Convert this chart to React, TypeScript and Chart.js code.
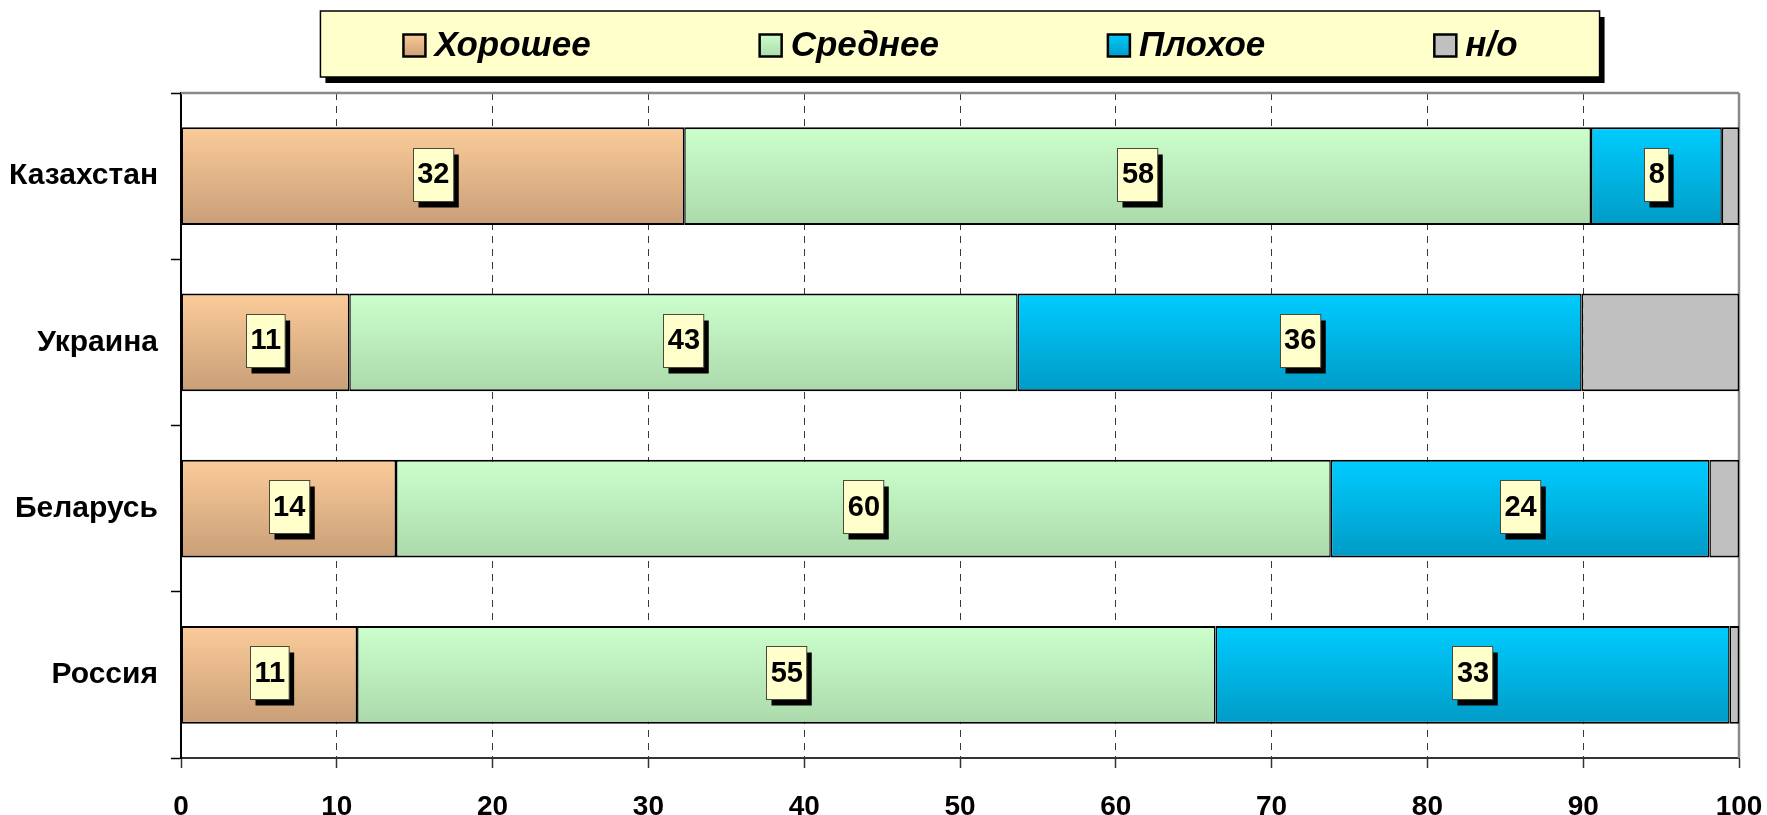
import React, { useEffect, useRef } from "react";
import { Chart, registerables } from "chart.js";

Chart.register(...registerables);

const categories = ["Казахстан", "Украина", "Беларусь", "Россия"];
const seriesLabels = ["Хорошее", "Среднее", "Плохое", "н/о"];
const goodValues = [32.3, 10.8, 13.8, 11.3];
const averageValues = [58.2, 42.9, 60.0, 55.1];
const badValues = [8.4, 36.2, 24.3, 33.0];
const naValues = [1.1, 10.1, 1.9, 0.6];
const xMin = 0;
const xMax = 100;
const xStep = 10;

const FONT = "'Liberation Sans', Arial, sans-serif";
const gradStops: [string, string][] = [
  ["#FBCB99", "#C99F78"],
  ["#CCFFCC", "#ABD9AB"],
  ["#00CCFF", "#009BC6"],
  ["#C0C0C0", "#C0C0C0"],
];
const BAR_PCT = 0.587;

function gradientFor(idx: number) {
  return (ctx: any) => {
    const chart = ctx.chart;
    const area = chart.chartArea;
    const ys = chart.scales && chart.scales.y;
    if (!area || !ys || ctx.dataIndex === undefined) return gradStops[idx][0];
    const yc = ys.getPixelForValue(ctx.dataIndex);
    const h = (area.height / categories.length) * BAR_PCT;
    const g = chart.ctx.createLinearGradient(0, yc - h / 2, 0, yc + h / 2);
    g.addColorStop(0, gradStops[idx][0]);
    g.addColorStop(1, gradStops[idx][1]);
    return g;
  };
}

const framePlugin = {
  id: "frame",
  beforeDatasetsDraw(chart: any) {
    const { ctx, chartArea: a } = chart;
    ctx.save();
    ctx.strokeStyle = "#8A8A8A";
    ctx.lineWidth = 2.5;
    ctx.beginPath();
    ctx.moveTo(a.left, a.top);
    ctx.lineTo(a.right, a.top);
    ctx.moveTo(a.right, a.top);
    ctx.lineTo(a.right, a.bottom);
    ctx.stroke();
    ctx.restore();
  },
};

const labelPlugin = {
  id: "boxLabels",
  afterDatasetsDraw(chart: any) {
    const ctx = chart.ctx;
    ctx.save();
    ctx.font = `bold 29px ${FONT}`;
    ctx.textAlign = "center";
    ctx.textBaseline = "middle";
    for (let d = 0; d < 3; d++) {
      const meta = chart.getDatasetMeta(d);
      const data = chart.data.datasets[d].data as number[];
      meta.data.forEach((el: any, i: number) => {
        const txt = String(Math.round(data[i]));
        const cx = (el.x + el.base) / 2;
        const cy = el.y - 2;
        const tw = ctx.measureText(txt).width;
        const bw = tw + 8;
        const bh = 53;
        const bx = Math.round(cx - bw / 2) + 0.5;
        const by = Math.round(cy - bh / 2) + 0.5;
        ctx.fillStyle = "#000";
        ctx.fillRect(bx + 5, by + 6, bw, bh);
        ctx.fillStyle = "#FFFFCC";
        ctx.fillRect(bx, by, bw, bh);
        ctx.strokeStyle = "#4A4A3A";
        ctx.lineWidth = 1;
        ctx.strokeRect(bx, by, bw, bh);
        ctx.fillStyle = "#000";
        ctx.fillText(txt, cx + 0.5, cy + 1);
      });
    }
    ctx.restore();
  },
};

const legendPlugin = {
  id: "boxLegend",
  afterDraw(chart: any) {
    const { ctx, chartArea: a } = chart;
    ctx.save();
    ctx.font = `italic bold 35px ${FONT}`;
    const marker = 24;
    const mGap = 8;
    const itemGap = 168;
    const widths = seriesLabels.map((s) => ctx.measureText(s).width);
    const total =
      widths.reduce((s, w) => s + marker + mGap + w, 0) + itemGap * (seriesLabels.length - 1);
    const cx = (a.left + a.right) / 2;
    const startX = cx - total / 2;
    const boxL = startX - 82;
    const boxW = total + 164;
    const boxT = 11;
    const boxH = 66;
    ctx.fillStyle = "#000";
    ctx.fillRect(boxL + 5, boxT + 6, boxW, boxH);
    ctx.fillStyle = "#FFFFCC";
    ctx.fillRect(boxL, boxT, boxW, boxH);
    ctx.strokeStyle = "#000";
    ctx.lineWidth = 1.5;
    ctx.strokeRect(boxL, boxT, boxW, boxH);
    let x = startX;
    const cy = 45.5;
    seriesLabels.forEach((s, i) => {
      const g = ctx.createLinearGradient(0, cy - marker / 2, 0, cy + marker / 2);
      g.addColorStop(0, gradStops[i][0]);
      g.addColorStop(1, gradStops[i][1]);
      ctx.fillStyle = g;
      ctx.fillRect(x + 1, cy - marker / 2 + 1, marker - 2, marker - 2);
      ctx.strokeStyle = "#000";
      ctx.lineWidth = 2.5;
      ctx.strokeRect(x + 1, cy - marker / 2 + 1, marker - 2, marker - 2);
      ctx.fillStyle = "#000";
      ctx.textAlign = "left";
      ctx.textBaseline = "middle";
      ctx.fillText(s, x + marker + mGap, cy + 1);
      x += marker + mGap + widths[i] + itemGap;
    });
    ctx.restore();
  },
};

export default function App() {
  const ref = useRef<HTMLCanvasElement>(null);
  useEffect(() => {
    document.body.style.margin = "0";
    const seriesData = [goodValues, averageValues, badValues, naValues];
    const chart = new Chart(ref.current!, {
      type: "bar",
      data: {
        labels: categories,
        datasets: seriesLabels.map((lab, i) => ({
          label: lab,
          data: seriesData[i],
          backgroundColor: gradientFor(i),
          borderColor: "#000",
          borderWidth: { top: 2, bottom: 2, left: 1.5, right: 1.5 },
          borderSkipped: false,
          barPercentage: BAR_PCT,
          categoryPercentage: 1,
        })),
      },
      options: {
        indexAxis: "y",
        responsive: false,
        animation: false,
        layout: { padding: { top: 93, right: 28, left: 0, bottom: 0 } },
        plugins: {
          legend: { display: false },
          tooltip: { enabled: false },
        },
        scales: {
          x: {
            stacked: true,
            min: xMin,
            max: xMax,
            afterFit: (s: any) => {
              s.height = 57;
              s.paddingRight = 0;
              s.paddingLeft = 0;
            },
            ticks: {
              stepSize: xStep,
              color: "#000",
              font: { family: FONT, size: 28, weight: "bold" },
              padding: 22,
              maxRotation: 0,
            },
            grid: {
              color: (c: any) =>
                c.tick && (c.tick.value === xMin || c.tick.value === xMax) ? "rgba(0,0,0,0)" : "#3A3A3A",
              lineWidth: 1,
              tickLength: 10,
              tickColor: "#333",
              tickWidth: 1.5,
              tickBorderDash: [],
            },
            border: { display: true, color: "#333", width: 2, dash: [7, 6] },
          },
          y: {
            stacked: true,
            afterFit: (s: any) => {
              s.width = 181;
            },
            ticks: {
              color: "#000",
              font: { family: FONT, size: 30, weight: "bold" },
              padding: 13,
            },
            grid: {
              drawOnChartArea: false,
              drawTicks: true,
              tickLength: 10,
              tickColor: "#000",
              tickWidth: 1.5,
              offset: true,
            },
            border: { display: true, color: "#000", width: 2 },
          },
        },
      },
      plugins: [framePlugin, labelPlugin, legendPlugin],
    });
    return () => chart.destroy();
  }, []);
  return (
    <div style={{ width: 1767, height: 815 }}>
      <canvas ref={ref} width={1767} height={815} style={{ display: "block" }} />
    </div>
  );
}
